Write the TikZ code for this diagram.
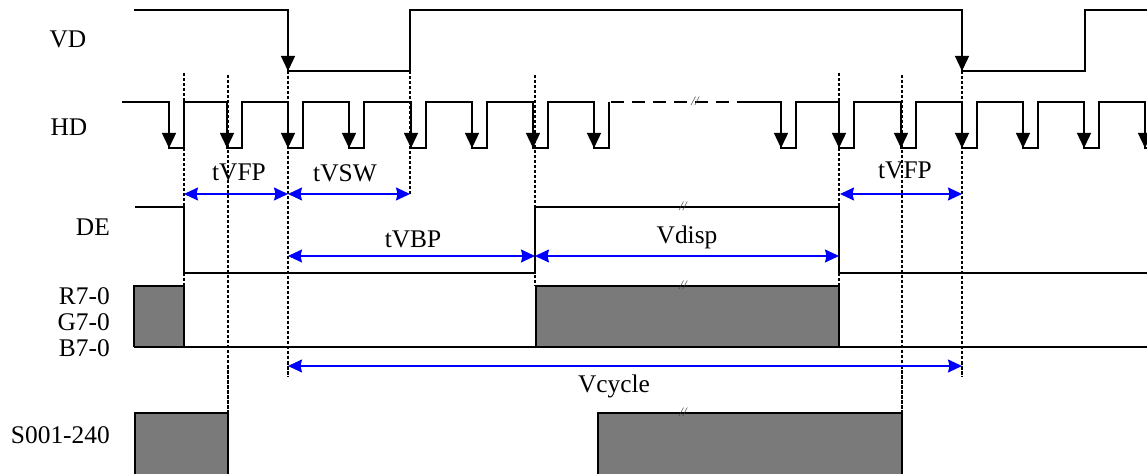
\documentclass[tikz,border=0pt]{standalone}
\usepackage{fontspec}
\setmainfont{Liberation Serif}
\usetikzlibrary{arrows.meta}
\begin{document}
\begin{tikzpicture}[x=1bp,y=-1bp,
  wave/.style={line width=1.4bp, line join=miter},
  edgearrow/.style={line width=1.4bp, -{Triangle[length=15bp,width=14bp]}},
  guide/.style={line width=2.4bp, dash pattern=on 3.5bp off 1.5bp},
  dim/.style={blue, line width=1.5bp, {Stealth[length=14bp,width=13bp,inset=1.5bp]}-{Stealth[length=14bp,width=13bp,inset=1.5bp]}},
  lbl/.style={font=\fontsize{25.5}{25.5}\selectfont, inner sep=0pt},
  brk/.style={font=\fontsize{13}{13}\selectfont\itshape, text=black!75, inner sep=0pt},
  datafill/.style={fill=black!52}
]
\useasboundingbox (0,0) rectangle (1147,474);

% ---- signal names
\node[lbl, anchor=base] (nVD) at (68,48) {VD};
\node[lbl, anchor=base] (nHD) at (69,136) {HD};
\node[lbl, anchor=base east] (nDE) at (110,236) {DE};
\node[lbl, anchor=base east] (nR) at (110,305) {R7-0};
\node[lbl, anchor=base east] (nG) at (110,331) {G7-0};
\node[lbl, anchor=base east] (nB) at (110,357) {B7-0};
\node[lbl, anchor=base east] (nS) at (110,444) {S001-240};

% ---- data boxes
\fill[datafill] (134,286) rectangle (184,347);
\fill[datafill] (536,286) rectangle (839,347);
\draw[wave] (134,347) -- (134,286) -- (184,286) -- (184,347);
\draw[wave] (536,347) -- (536,286) -- (839,286) -- (839,347);
\draw[wave] (134,347) -- (1147,347);
\fill[datafill] (135,413) rectangle (228,476);
\fill[datafill] (598,413) rectangle (902,476);
\draw[wave] (135,476) -- (135,413) -- (228,413) -- (228,476);
\draw[wave] (598,476) -- (598,413) -- (902,413) -- (902,476);

% ---- guide lines
\draw[guide] (184,73) -- (184,286);
\draw[guide] (228,75) -- (228,413);
\draw[guide] (288,71) -- (288,377);
\draw[guide] (410,71) -- (410,194);
\draw[guide] (535,75) -- (535,286);
\draw[guide] (839,73) -- (839,286);
\draw[guide] (902,75) -- (902,413);
\draw[guide] (962,71) -- (962,377);

% ---- VD
\draw[wave] (134,10) -- (288,10) -- (288,71) -- (410,71) -- (410,10) -- (962,10) -- (962,71) -- (1085,71) -- (1085,10) -- (1147,10);
\draw[edgearrow] (288,30) -- (288,71);
\draw[edgearrow] (962,30) -- (962,71);

% ---- HD
\draw[wave] (122,102) -- (169,102) -- (169,148) -- (184,148) -- (184,102)
  -- (227,102) -- (227,148) -- (242,148) -- (242,102)
  -- (288,102) -- (288,148) -- (303,148) -- (303,102)
  -- (349,102) -- (349,148) -- (364,148) -- (364,102)
  -- (411,102) -- (411,148) -- (426,148) -- (426,102)
  -- (472,102) -- (472,148) -- (487,148) -- (487,102)
  -- (533,102) -- (533,148) -- (548,148) -- (548,102)
  -- (594,102) -- (594,148) -- (609,148) -- (609,102);
\draw[line width=2.8bp, dash pattern=on 13bp off 8bp] (611,102) -- (737,102);
\node[brk] (bHD) at (695,101) {//};
\draw[wave] (737,102) -- (781,102) -- (781,148) -- (796,148) -- (796,102)
  -- (839,102) -- (839,148) -- (854,148) -- (854,102)
  -- (901,102) -- (901,148) -- (916,148) -- (916,102)
  -- (962,102) -- (962,148) -- (977,148) -- (977,102)
  -- (1023,102) -- (1023,148) -- (1038,148) -- (1038,102)
  -- (1084,102) -- (1084,148) -- (1099,148) -- (1099,102)
  -- (1145,102) -- (1145,148) -- (1160,148);
\foreach \f in {169,227,288,349,411,472,533,594,781,839,901,962,1023,1084,1145}
  \draw[edgearrow] (\f,120) -- (\f,148);

% ---- DE
\draw[wave] (135,207) -- (184,207) -- (184,273) -- (535,273) -- (535,207) -- (839,207) -- (839,273) -- (1147,273);
\node[brk] (bDE) at (683,206) {//};
\node[brk] (bR) at (683,285) {//};
\node[brk] (bS) at (683,412) {//};

% ---- dimensions
\coordinate (a184) at (184,194);
\coordinate (a288) at (288,194);
\coordinate (a410) at (410,194);
\coordinate (a840) at (840,194);
\coordinate (a962) at (962,194);
\coordinate (b288) at (288,256);
\coordinate (b535) at (535,256);
\coordinate (b839) at (839,256);
\coordinate (c288) at (288,366);
\coordinate (c962) at (962,366);
\draw[dim] (a184) -- (a288);
\draw[dim] (a288) -- (a410);
\draw[dim] (a840) -- (a962);
\draw[dim] (b288) -- (b535);
\draw[dim] (b535) -- (b839);
\draw[dim] (c288) -- (c962);
\node[lbl, anchor=base] (tVFPa) at (239,181) {tVFP};
\node[lbl, anchor=base] (tVSW) at (345,182) {tVSW};
\node[lbl, anchor=base] (tVFPb) at (905,179) {tVFP};
\node[lbl, anchor=base] (tVBP) at (413,248) {tVBP};
\node[lbl, anchor=base] (Vdisp) at (687,244) {Vdisp};
\node[lbl, anchor=base] (Vcycle) at (614,393) {Vcycle};
\end{tikzpicture}
\end{document}
